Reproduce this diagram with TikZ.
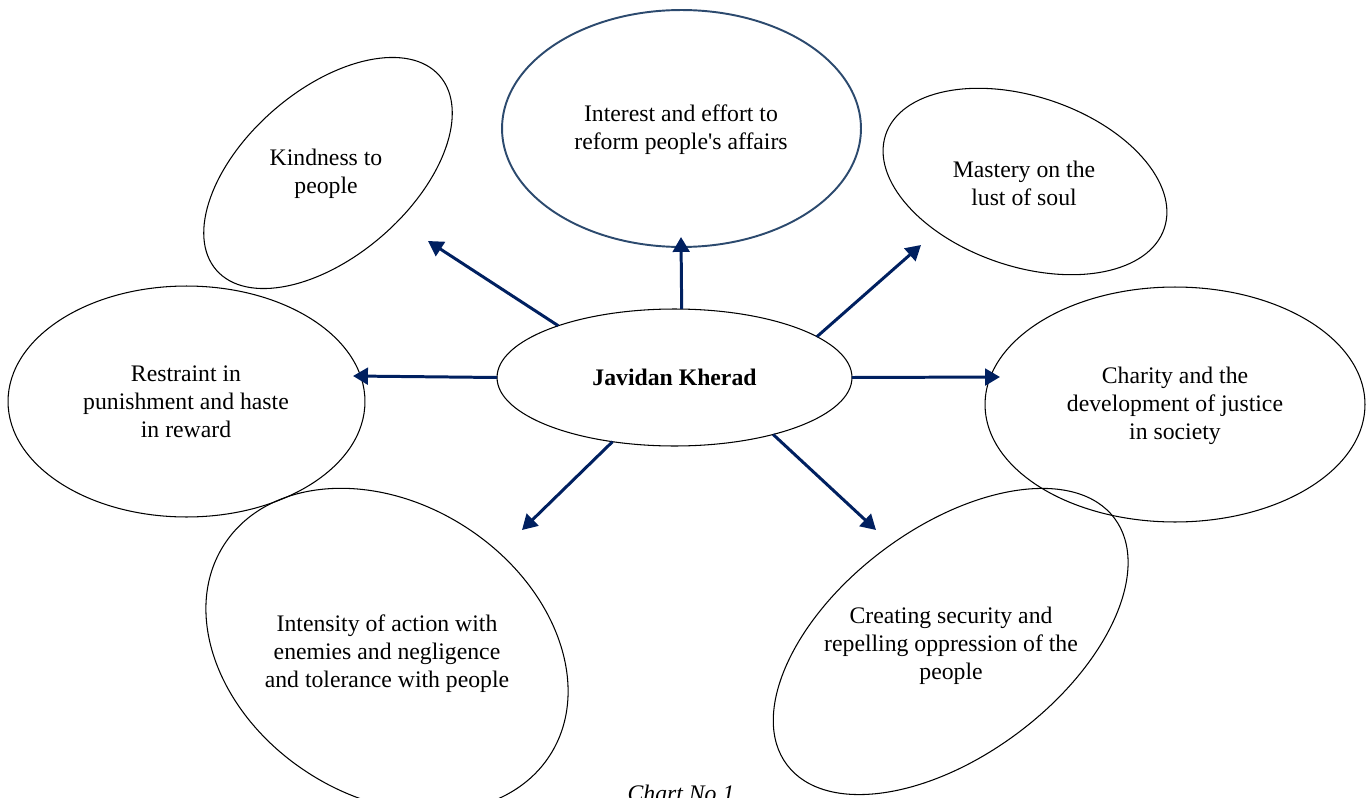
\documentclass[tikz,border=0pt]{standalone}
\usepackage{fontspec}
\setmainfont{Liberation Serif}
\usetikzlibrary{arrows.meta, shapes.geometric}
\definecolor{MyNavy}{HTML}{002060}
\definecolor{MySlate}{HTML}{2C4A6E}

\begin{document}
\begin{tikzpicture}[x=0.02cm, y=-0.02cm, every node/.style={font=\fontsize{13.5}{16}\selectfont, align=center}, bubble/.style={line width=0.6pt}, link/.style={MyNavy, line width=1.7pt, -{Triangle[length=8.5pt, width=9.5pt]}}]
					\useasboundingbox (0,0) rectangle (1371,797);
					
					% centre
					\node[draw, ellipse, bubble, minimum width=7.1cm, minimum height=2.74cm, inner sep=0pt, outer sep=0pt, font=\fontsize{13.5}{16}\selectfont\bfseries] (jk) at (674.5,377.5) {Javidan Kherad};
					
					\coordinate (K) at (328,173);
					\coordinate (I) at (681.5,128.5);
					\coordinate (M) at (1025,181.5);
					\coordinate (C) at (1175,404.5);
					\coordinate (S) at (950.5,641.5);
					\coordinate (T) at (387,650);
					\coordinate (R) at (186.5,401.5);
					
					\draw[bubble, rotate around={41:(K)}] (K) ellipse [x radius=2.96cm, y radius=1.66cm];
					\draw[MySlate, line width=1.1pt] (I) ellipse [x radius=3.59cm, y radius=2.37cm];
					\draw[bubble, rotate around={-18.6:(M)}] (M) ellipse [x radius=2.94cm, y radius=1.7cm];
					\draw[bubble] (C) ellipse [x radius=3.8cm, y radius=2.35cm];
					\draw[bubble, rotate around={37:(S)}] (S) ellipse [x radius=4.1cm, y radius=2.27cm];
					\draw[bubble, rotate around={-33:(T)}] (T) ellipse [x radius=3.88cm, y radius=2.92cm];
					\draw[bubble] (R) ellipse [x radius=3.57cm, y radius=2.31cm];
					
					\node (kind) at (326,174) {Kindness to\\people};
					\node (reform) at (681,130) {Interest and effort to\\reform people\textquotesingle s affairs};
					\node (lust) at (1024,183) {Mastery on the\\lust of soul};
					\node (charity) at (1175,406) {Charity and the\\development of justice\\in society};
					\node (secure) at (951,646) {Creating security and\\repelling oppression of the\\people};
					\node (intense) at (387,654) {Intensity of action with\\enemies and negligence\\and tolerance with people};
					\node (restrain) at (186,402) {Restraint in\\punishment and haste\\in reward};
					
					% arrow ends
					\coordinate (tUp) at (681,237);
					\coordinate (tUL) at (428,241);
					\coordinate (tUR) at (921,245);
					\coordinate (tL) at (353,376);
					\coordinate (tR) at (1000,377);
					\coordinate (tDL) at (522,530);
					\coordinate (tDR) at (876,530);
					
					\draw[link] (jk.84.6) -- (tUp);
					\draw[link] (jk.156.6) -- (tUL);
					\draw[link] (jk.16.8) -- (tUR);
					\draw[link] (jk.180) -- (tL);
					\draw[link] (jk.0) -- (tR);
					\draw[link] (jk.226.4) -- (tDL);
					\draw[link] (jk.330.2) -- (tDR);
					
					\node[anchor=base, font=\fontsize{13.5}{16}\selectfont\itshape] (cap) at (681,801) {Chart No.1};
			\end{tikzpicture}
\end{document}
